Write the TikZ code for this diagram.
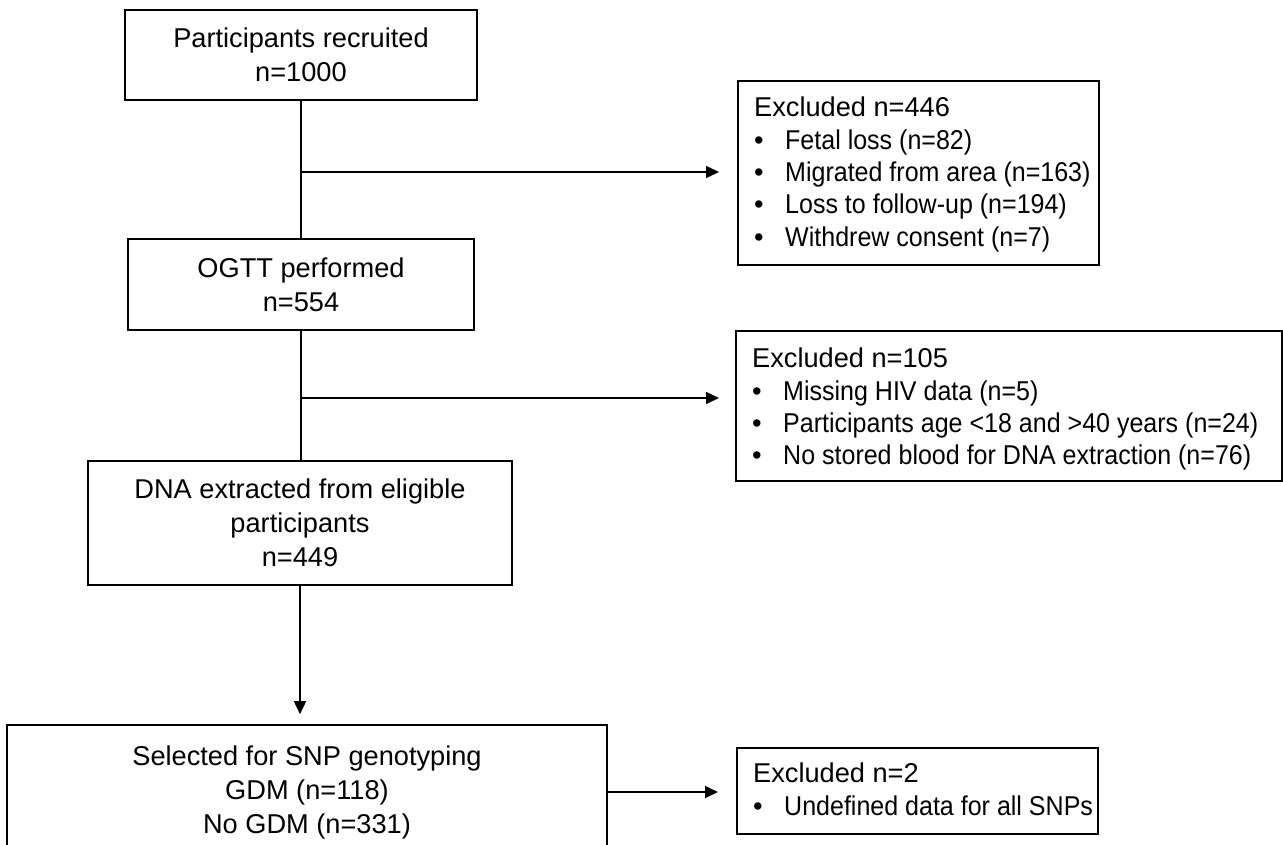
\documentclass[tikz,border=0pt]{standalone}
\usepackage{fontspec}
\setmainfont{Liberation Sans}
\newfontfamily\condensedface[FakeStretch=0.92]{Liberation Sans}
\usetikzlibrary{arrows.meta}
\newcommand\exitem[1]{\makebox[31pt][l]{\textbullet}{\condensedface #1}}
\tikzset{
  flowbox/.style={draw, line width=1.6pt, rectangle, align=center, inner sep=0pt,
    font=\fontsize{27.2}{34}\selectfont},
  exframe/.style={draw, line width=1.6pt, rectangle, inner sep=0pt, anchor=north west},
  excltext/.style={anchor=north west, align=left, inner sep=0pt,
    font=\fontsize{27.2}{32.3}\selectfont},
  link/.style={line width=1.6pt},
  arrowlink/.style={line width=1.6pt, -{Triangle[length=13pt,width=12pt]}}
}
\begin{document}
\begin{tikzpicture}[x=1pt, y=-1pt]
  \clip (0,0) rectangle (1283,845);
  \fill[white] (0,0) rectangle (1283,845);

  % main column
  \node[flowbox, minimum width=352pt, minimum height=90pt] (recruit) at (301,55)
    {Participants recruited\\n=1000};
  \node[flowbox, minimum width=346pt, minimum height=91pt] (ogtt) at (301,284.5)
    {OGTT performed\\n=554};
  \node[flowbox, minimum width=424pt, minimum height=124pt] (dna) at (300,523)
    {DNA extracted from eligible\\participants\\n=449};
  \node[flowbox, minimum width=600pt, minimum height=134pt] (geno) at (307,792)
    {Selected for SNP genotyping\\GDM (n=118)\\No GDM (n=331)};

  % exclusion frames
  \node[exframe, minimum width=361pt, minimum height=184pt] (ex1) at (737,80) {};
  \node[exframe, minimum width=546pt, minimum height=150pt] (ex2) at (735,330) {};
  \node[exframe, minimum width=361pt, minimum height=86pt] (ex3) at (736,747) {};

  % exclusion texts
  \node[excltext] (ex1txt) at (754,97)
    {Excluded n=446\\
     \exitem{Fetal loss (n=82)}\\
     \exitem{Migrated from area (n=163)}\\
     \exitem{Loss to follow-up (n=194)}\\
     \exitem{Withdrew consent (n=7)}};
  \node[excltext] (ex2txt) at (752,348)
    {Excluded n=105\\
     \exitem{Missing HIV data (n=5)}\\
     \exitem{Participants age <18 and >40 years (n=24)}\\
     \exitem{No stored blood for DNA extraction (n=76)}};
  \node[excltext] (ex3txt) at (753,763)
    {Excluded n=2\\
     \exitem{Undefined data for all SNPs}};

  % junctions and arrow ends
  \coordinate (j1) at (301,172);
  \coordinate (t1) at (719,172);
  \coordinate (j2) at (301,398);
  \coordinate (t2) at (719,398);
  \coordinate (t3) at (718,792);

  % connectors
  \draw[link] (recruit.south) -- (ogtt.north);
  \draw[arrowlink] (j1) -- (t1);
  \draw[link] (ogtt.south) -- (ogtt.south |- dna.north);
  \draw[arrowlink] (j2) -- (t2);
  \draw[arrowlink, shorten >=10pt] (dna.south) -- (dna.south |- geno.north);
  \draw[arrowlink] (geno.east) -- (t3);
\end{tikzpicture}
\end{document}
